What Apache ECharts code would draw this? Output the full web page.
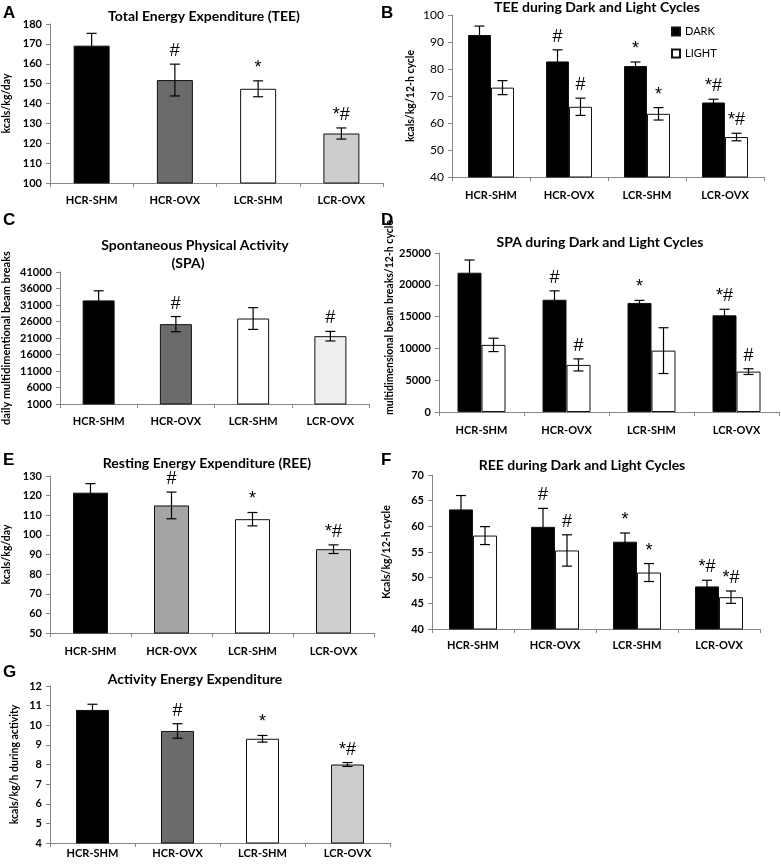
<!DOCTYPE html>
<html>
<head>
<meta charset="utf-8">
<title>Energy expenditure panels</title>
<script src="https://cdn.jsdelivr.net/npm/echarts@6/dist/echarts.min.js"></script>
<style>html,body{margin:0;padding:0;background:#fff;}</style>
</head>
<body>
<div id="main" style="width:781px;height:865px;"></div>
<script type="text/javascript">
var groups = ['HCR-SHM', 'HCR-OVX', 'LCR-SHM', 'LCR-OVX'];

// A - total energy expenditure
var teeMean = [169.1, 151.8, 147.4, 124.9];
var teeErr = [6.2, 8, 4, 2.8];
var teeMarks = ['', '#', '*', '*#'];

// B - TEE dark / light
var teeDark = [92.6, 82.8, 81.1, 67.6];
var teeDarkErr = [3.3, 4.3, 1.5, 1.2];
var teeDarkMarks = ['', '#', '*', '*#'];
var teeLight = [73.1, 66.0, 63.4, 54.8];
var teeLightErr = [2.6, 3.2, 2.3, 1.4];
var teeLightMarks = ['', '#', '*', '*#'];

// C - spontaneous physical activity
var spaMean = [32400, 25200, 26900, 21550];
var spaErr = [2900, 2300, 3300, 1450];
var spaMarks = ['', '#', '', '#'];

// D - SPA dark / light
var spaDark = [21900, 17650, 17150, 15200];
var spaDarkErr = [2000, 1400, 400, 950];
var spaDarkMarks = ['', '#', '*', '*#'];
var spaLight = [10550, 7400, 9650, 6350];
var spaLightErr = [1050, 950, 3600, 450];
var spaLightMarks = ['', '#', '', '#'];

// E - resting energy expenditure
var reeMean = [121.5, 115, 108, 92.7];
var reeErr = [4.6, 6.8, 3.4, 2.2];
var reeMarks = ['', '#', '*', '*#'];

// F - REE dark / light
var reeDark = [63.3, 59.9, 57.0, 48.3];
var reeDarkErr = [2.7, 3.6, 1.7, 1.2];
var reeDarkMarks = ['', '#', '*', '*#'];
var reeLight = [58.2, 55.3, 51.0, 46.2];
var reeLightErr = [1.75, 3.05, 1.75, 1.2];
var reeLightMarks = ['', '#', '*', '*#'];

// G - activity energy expenditure
var aeeMean = [10.78, 9.71, 9.31, 8.0];
var aeeErr = [0.29, 0.37, 0.17, 0.1];
var aeeMarks = ['', '#', '*', '*#'];

var FONT = 'Lato, "Open Sans", sans-serif';
var MARKFONT = '18px "Liberation Sans", Arial, sans-serif';
var AXIS = '#868686';
var grids = [], xAxes = [], yAxes = [], series = [], texts = [];

function label(txt, x, y, font, align, vAlign) {
    texts.push({
        type: 'text', x: x, y: y, silent: true,
        style: {
            text: txt, font: font, fill: '#000',
            align: align || 'center', verticalAlign: vAlign || 'middle',
            textAlign: align || 'center', textVerticalAlign: vAlign || 'middle'
        }
    });
}

function panel(p) {
    var i = grids.length;
    grids.push({left: p.box[0], top: p.box[1], width: p.box[2], height: p.box[3]});
    xAxes.push({
        type: 'category', gridIndex: i, data: groups,
        axisLine: {lineStyle: {color: AXIS}},
        axisTick: {show: true, length: 4, lineStyle: {color: AXIS}},
        axisLabel: {color: '#000', fontFamily: FONT, fontWeight: 'bold', fontSize: 11, margin: p.xMargin}
    });
    yAxes.push({
        type: 'value', gridIndex: i, min: p.min, max: p.max, interval: p.step,
        name: p.yName, nameLocation: 'middle', nameGap: p.nameGap,
        nameTextStyle: {color: '#000', fontFamily: FONT, fontWeight: 'bold', fontSize: p.nameSize || 10.5,
            padding: p.namePad || 0},
        axisLine: {show: true, lineStyle: {color: AXIS}},
        axisTick: {show: true, length: 4, lineStyle: {color: AXIS}},
        splitLine: {show: false},
        axisLabel: {color: '#000', fontFamily: FONT, fontWeight: p.yBold === false ? 'normal' : 'bold',
            fontSize: p.yBold === false ? 12 : 11, margin: 8,
            formatter: function (v) { return String(v); }}
    });
    var two = p.sets.length === 2;
    p.sets.forEach(function (s) {
        series.push({
            type: 'bar', name: s.name, xAxisIndex: i, yAxisIndex: i,
            barWidth: p.barWidth, barGap: '0%',
            itemStyle: {color: s.color || '#000', borderColor: '#111', borderWidth: 1},
            data: s.mean.map(function (v, k) {
                return s.colors ? {value: v, itemStyle: {color: s.colors[k]}} : v;
            }),
            z: 2
        });
    });
    p.sets.forEach(function (s, j) {
        var off = two ? (j === 0 ? -p.barWidth / 2 : p.barWidth / 2) : 0;
        series.push({
            type: 'custom', xAxisIndex: i, yAxisIndex: i, silent: true, z: 5,
            data: s.mean.map(function (v, k) { return [k, v, s.err[k]]; }),
            renderItem: function (params, api) {
                var k = api.value(0), v = api.value(1), e = api.value(2);
                var hi = api.coord([k, v + e]), lo = api.coord([k, v - e]);
                var x = hi[0] + off, cap = 5;
                var st = {stroke: '#000', lineWidth: 1.2};
                var kids = [
                    {type: 'line', shape: {x1: x, y1: hi[1], x2: x, y2: lo[1]}, style: st},
                    {type: 'line', shape: {x1: x - cap, y1: hi[1], x2: x + cap, y2: hi[1]}, style: st},
                    {type: 'line', shape: {x1: x - cap, y1: lo[1], x2: x + cap, y2: lo[1]}, style: st}
                ];
                var m = s.marks[params.dataIndex];
                if (m) {
                    kids.push({type: 'text', style: {
                        text: m, x: x, y: hi[1] - 4, fill: '#000', font: MARKFONT,
                        align: 'center', verticalAlign: 'bottom',
                        textAlign: 'center', textVerticalAlign: 'bottom'
                    }});
                }
                return {type: 'group', children: kids};
            }
        });
    });
}

panel({box: [50, 24, 333, 159], min: 100, max: 180, step: 10, yName: 'kcals/kg/day', nameGap: 38,
    barWidth: 36, xMargin: 12,
    sets: [{name: 'TEE', mean: teeMean, err: teeErr, marks: teeMarks,
        colors: ['#000', '#6b6b6b', '#fff', '#cdcdcd']}]});

panel({box: [452, 15, 312, 162], min: 40, max: 100, step: 10, yName: 'kcals/kg/12-h cycle', nameGap: 36,
    barWidth: 23, xMargin: 13, yBold: false,
    sets: [{name: 'DARK', color: '#000', mean: teeDark, err: teeDarkErr, marks: teeDarkMarks},
        {name: 'LIGHT', color: '#fff', mean: teeLight, err: teeLightErr, marks: teeLightMarks}]});

panel({box: [57, 272, 312, 132], min: 1000, max: 41000, step: 5000, yName: 'daily multidimentional beam breaks',
    nameGap: 48, nameSize: 11, barWidth: 32, xMargin: 12,
    sets: [{name: 'SPA', mean: spaMean, err: spaErr, marks: spaMarks,
        colors: ['#000', '#6b6b6b', '#fff', '#efefef']}]});

panel({box: [439, 253, 340, 159], min: 0, max: 25000, step: 5000, yName: 'multidimensional beam breaks/12-h cycle',
    nameGap: 38, barWidth: 24, xMargin: 13, namePad: [0, 0, 0, 30],
    sets: [{name: 'DARK', color: '#000', mean: spaDark, err: spaDarkErr, marks: spaDarkMarks},
        {name: 'LIGHT', color: '#fff', mean: spaLight, err: spaLightErr, marks: spaLightMarks}]});

panel({box: [50, 476, 324, 157], min: 50, max: 130, step: 10, yName: 'kcals/kg/day', nameGap: 38,
    barWidth: 35, xMargin: 13,
    sets: [{name: 'REE', mean: reeMean, err: reeErr, marks: reeMarks,
        colors: ['#000', '#a5a5a5', '#fff', '#cfcfcf']}]});

panel({box: [432, 475, 328, 154], min: 40, max: 70, step: 5, yName: 'Kcals/kg/12-h cycle', nameGap: 40,
    barWidth: 24, xMargin: 11,
    sets: [{name: 'DARK', color: '#000', mean: reeDark, err: reeDarkErr, marks: reeDarkMarks},
        {name: 'LIGHT', color: '#fff', mean: reeLight, err: reeLightErr, marks: reeLightMarks}]});

panel({box: [50, 686, 340, 157], min: 4, max: 12, step: 1, yName: 'kcals/kg/h during activity', nameGap: 30,
    barWidth: 33, xMargin: 5,
    sets: [{name: 'AEE', mean: aeeMean, err: aeeErr, marks: aeeMarks,
        colors: ['#000', '#6b6b6b', '#fff', '#cccccc']}]});

// titles
var TF = 'bold 14px ' + FONT;
label('Total Energy Expenditure (TEE)', 204, 16, TF);
label('TEE during Dark and Light Cycles', 597, 7, TF);
label('Spontaneous Physical Activity', 195, 245, TF);
label('(SPA)', 188, 263, TF);
label('SPA during Dark and Light Cycles', 600, 242, TF);
label('Resting Energy Expenditure (REE)', 207, 463, TF);
label('REE during Dark and Light Cycles', 582, 465, TF);
label('Activity Energy Expenditure', 195, 679, TF);

// panel letters
var LF = 'bold 17px "Liberation Sans", Arial, sans-serif';
label('A', 3, 4.5, LF, 'left', 'top');
label('B', 381, 4.5, LF, 'left', 'top');
label('C', 3, 211.5, LF, 'left', 'top');
label('D', 381, 211.5, LF, 'left', 'top');
label('E', 3, 451.5, LF, 'left', 'top');
label('F', 381, 451.5, LF, 'left', 'top');
label('G', 3, 663.5, LF, 'left', 'top');

var myChart = echarts.init(document.getElementById('main'));
myChart.setOption({
    backgroundColor: '#fff',
    animation: false,
    legend: {
        data: ['DARK', 'LIGHT'], orient: 'vertical', left: 666, top: 21,
        itemWidth: 8, itemHeight: 8, itemGap: 11, icon: 'rect',
        textStyle: {color: '#000', fontFamily: FONT, fontSize: 11}
    },
    grid: grids,
    xAxis: xAxes,
    yAxis: yAxes,
    series: series,
    graphic: texts
});
</script>
</body>
</html>
